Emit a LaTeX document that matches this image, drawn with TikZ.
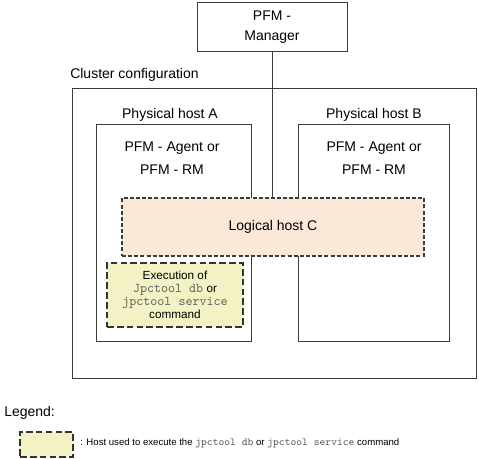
\documentclass[tikz,border=0pt]{standalone}
\usepackage{fontspec}
\setmainfont{Liberation Sans}
\setmonofont{Latin Modern Mono}[Scale=1.14]
\definecolor{lhfill}{RGB}{250,232,216}
\definecolor{exfill}{RGB}{243,242,196}
\definecolor{edge}{RGB}{60,60,60}
\definecolor{monogray}{RGB}{95,95,95}
\newcommand{\cmdtxt}[1]{{\ttfamily\color{monogray}#1}}
\begin{document}
\begin{tikzpicture}[x=0.75pt,y=-0.75pt,
  solidbox/.style={draw=edge,line width=0.75pt,rectangle,inner sep=0pt},
  lbl/.style={font=\fontsize{10.5}{15}\selectfont,align=center,inner sep=0pt},
  lhbox/.style={draw=edge,fill=lhfill,line width=0.8pt,dash pattern=on 3pt off 1.6pt},
  exbox/.style={draw=black!80,fill=exfill,line width=1.1pt,dash pattern=on 5pt off 2.4pt}]
\useasboundingbox (0,0) rectangle (479,459);
% manager
\node[solidbox,minimum width=112.5pt,minimum height=36.75pt,lbl] (mgr) at (272,27.5) {PFM -\\Manager};
% cluster
\node[lbl,anchor=west] (clbl) at (70,75) {Cluster configuration};
\draw[edge,line width=0.75pt] (72,89) rectangle (476,379);
% hosts
\node[lbl] (halbl) at (170,115) {Physical host A};
\node[lbl] (hblbl) at (374,115) {Physical host B};
\draw[edge,line width=0.75pt] (96,125) rectangle (251,342);
\draw[edge,line width=0.75pt] (298,125) rectangle (449,342);
\node[lbl,font=\fontsize{10.5}{17}\selectfont] (pa) at (172,158) {PFM - Agent or\\PFM - RM};
\node[lbl,font=\fontsize{10.5}{17}\selectfont] (pb) at (374,158) {PFM - Agent or\\PFM - RM};
% logical host
\node[lhbox,minimum width=226.5pt,minimum height=43.5pt,lbl] (lhc) at (273,227) {Logical host C};
\draw[edge,line width=0.75pt] (mgr.south) -- (mgr.south |- lhc.north);
% execution box
\node[exbox,minimum width=102pt,minimum height=48pt,align=center,inner sep=0pt,
  font=\fontsize{8.8}{9.8}\selectfont] (ex) at (175,295)
  {Execution of\\\cmdtxt{Jpctool db} or\\\cmdtxt{jpctool service}\\command};
% legend
\node[lbl,anchor=west] (leg) at (4,413) {Legend:};
\node[exbox,minimum width=39.75pt,minimum height=18.75pt] (legbox) at (46.5,444.5) {};
\node[anchor=west,inner sep=0pt,font=\fontsize{7.2}{9}\selectfont] (legtxt) at (80,443)
  {: Host used to execute the \cmdtxt{jpctool db} or \cmdtxt{jpctool service} command};
\end{tikzpicture}
\end{document}
